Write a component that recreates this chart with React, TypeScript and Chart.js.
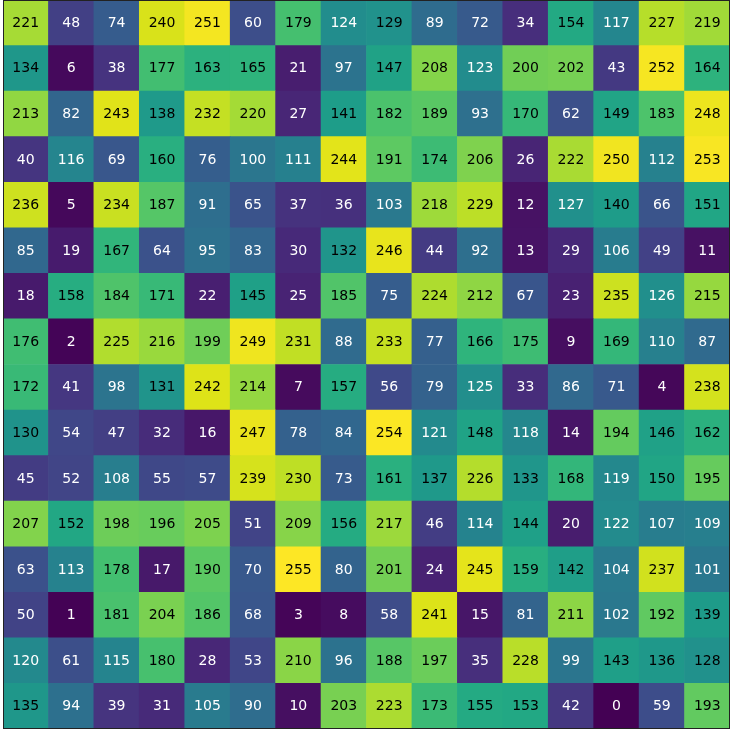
import React, { useEffect, useRef } from "react";
import { Chart, registerables } from "chart.js";

Chart.register(...registerables);

// Rows listed top to bottom, 16 columns each
const row00 = [221, 48, 74, 240, 251, 60, 179, 124, 129, 89, 72, 34, 154, 117, 227, 219];
const row01 = [134, 6, 38, 177, 163, 165, 21, 97, 147, 208, 123, 200, 202, 43, 252, 164];
const row02 = [213, 82, 243, 138, 232, 220, 27, 141, 182, 189, 93, 170, 62, 149, 183, 248];
const row03 = [40, 116, 69, 160, 76, 100, 111, 244, 191, 174, 206, 26, 222, 250, 112, 253];
const row04 = [236, 5, 234, 187, 91, 65, 37, 36, 103, 218, 229, 12, 127, 140, 66, 151];
const row05 = [85, 19, 167, 64, 95, 83, 30, 132, 246, 44, 92, 13, 29, 106, 49, 11];
const row06 = [18, 158, 184, 171, 22, 145, 25, 185, 75, 224, 212, 67, 23, 235, 126, 215];
const row07 = [176, 2, 225, 216, 199, 249, 231, 88, 233, 77, 166, 175, 9, 169, 110, 87];
const row08 = [172, 41, 98, 131, 242, 214, 7, 157, 56, 79, 125, 33, 86, 71, 4, 238];
const row09 = [130, 54, 47, 32, 16, 247, 78, 84, 254, 121, 148, 118, 14, 194, 146, 162];
const row10 = [45, 52, 108, 55, 57, 239, 230, 73, 161, 137, 226, 133, 168, 119, 150, 195];
const row11 = [207, 152, 198, 196, 205, 51, 209, 156, 217, 46, 114, 144, 20, 122, 107, 109];
const row12 = [63, 113, 178, 17, 190, 70, 255, 80, 201, 24, 245, 159, 142, 104, 237, 101];
const row13 = [50, 1, 181, 204, 186, 68, 3, 8, 58, 241, 15, 81, 211, 102, 192, 139];
const row14 = [120, 61, 115, 180, 28, 53, 210, 96, 188, 197, 35, 228, 99, 143, 136, 128];
const row15 = [135, 94, 39, 31, 105, 90, 10, 203, 223, 173, 155, 153, 42, 0, 59, 193];

const rowsTopToBottom = [
  row00, row01, row02, row03, row04, row05, row06, row07,
  row08, row09, row10, row11, row12, row13, row14, row15,
];
const columnLabels = Array.from({ length: 16 }, (_, i) => String(i));
const valueMin = 0;
const valueMax = 255;

// viridis colour stops (style)
const VIRIDIS: [number, number, number][] = [
  [68, 1, 84], [71, 19, 101], [72, 36, 117], [70, 51, 127], [65, 68, 135],
  [59, 82, 139], [53, 95, 141], [47, 108, 142], [42, 120, 142], [37, 132, 142],
  [33, 145, 140], [30, 156, 137], [34, 168, 132], [47, 180, 124], [68, 191, 112],
  [94, 201, 98], [122, 209, 81], [155, 217, 60], [189, 223, 38], [223, 227, 24],
  [253, 231, 37],
];

function viridis(t: number): string {
  const c = Math.max(0, Math.min(1, t)) * (VIRIDIS.length - 1);
  const i = Math.min(Math.floor(c), VIRIDIS.length - 2);
  const f = c - i;
  const a = VIRIDIS[i];
  const b = VIRIDIS[i + 1];
  const r = Math.round(a[0] + (b[0] - a[0]) * f);
  const g = Math.round(a[1] + (b[1] - a[1]) * f);
  const bl = Math.round(a[2] + (b[2] - a[2]) * f);
  return `rgb(${r},${g},${bl})`;
}

const norm = (v: number) => (v - valueMin) / (valueMax - valueMin);

export default function App() {
  const ref = useRef<HTMLCanvasElement>(null);

  useEffect(() => {
    if (!ref.current) return;
    // dataset 0 is the bottom row
    const bottomUp = [...rowsTopToBottom].reverse();
    const datasets = bottomUp.map((row, i) => ({
      label: `row ${15 - i}`,
      data: row.map(() => 1),
      cellValues: row,
      backgroundColor: row.map((v) => viridis(norm(v))),
      borderWidth: 0,
      borderSkipped: false as const,
      categoryPercentage: 1,
      barPercentage: 1,
    }));

    const labelPlugin = {
      id: "cellLabels",
      afterDatasetsDraw(chart: any) {
        const ctx = chart.ctx;
        ctx.save();
        ctx.font = '14px "DejaVu Sans"';
        ctx.textAlign = "center";
        ctx.textBaseline = "middle";
        chart.data.datasets.forEach((ds: any, di: number) => {
          const meta = chart.getDatasetMeta(di);
          meta.data.forEach((el: any, j: number) => {
            const v = ds.cellValues[j];
            const y = (el.y + el.base) / 2;
            ctx.fillStyle = v < 128 ? "#ffffff" : "#000000";
            ctx.fillText(String(v), el.x, y + 0.5);
          });
        });
        // frame
        const a = chart.chartArea;
        ctx.strokeStyle = "#222222";
        ctx.lineWidth = 1;
        ctx.strokeRect(a.left + 0.5, a.top + 0.5, a.right - a.left - 1, a.bottom - a.top - 1);
        ctx.restore();
      },
    };

    const chart = new Chart(ref.current, {
      type: "bar",
      data: { labels: columnLabels, datasets: datasets as any },
      options: {
        responsive: false,
        animation: false,
        layout: { padding: { left: 3, top: 0, right: 1, bottom: 2 } },
        plugins: { legend: { display: false }, tooltip: { enabled: false } },
        scales: {
          x: { stacked: true, display: false, offset: true },
          y: { stacked: true, display: false, min: 0, max: 16 },
        },
      },
      plugins: [labelPlugin],
    });
    return () => chart.destroy();
  }, []);

  return (
    <div style={{ position: "absolute", left: 0, top: 0, width: 731, height: 731, background: "#fff" }}>
      <canvas ref={ref} width={731} height={731} style={{ display: "block" }} />
    </div>
  );
}
